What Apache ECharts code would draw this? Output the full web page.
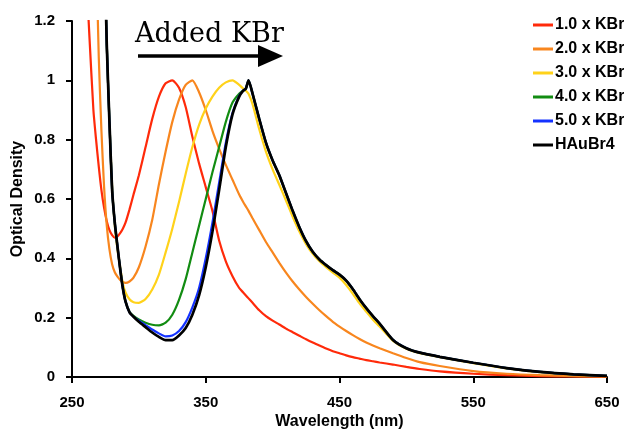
<!DOCTYPE html>
<html>
<head>
<meta charset="utf-8">
<script src="https://cdn.jsdelivr.net/npm/echarts@6/dist/echarts.min.js"></script>
<style>html,body{margin:0;padding:0;background:#fff}#c{width:624px;height:433px}</style>
</head>
<body>
<div id="c"></div>
<script>
// Wavelength grid (nm)
var wavelengths = [260,263,266,268,270,272,274,276,278,280,282,284,286,288,290,293,296,300,305,310,315,320,325,330,335,340,345,350,355,360,365,370,375,378,380,382,385,390,395,400,405,410,415,420,425,430,435,440,445,450,455,460,465,470,475,480,490,500,510,525,550,575,600,625,650];

var seriesNames = ['1.0 x KBr','2.0 x KBr','3.0 x KBr','4.0 x KBr','5.0 x KBr','HAuBr4'];

var kbr1 = [1.42,1.15,0.9,0.8,0.71,0.63,0.57,0.525,0.495,0.478,0.47,0.474,0.485,0.5,0.52,0.565,0.615,0.68,0.775,0.87,0.945,0.99,1.0,0.975,0.91,0.81,0.72,0.64,0.56,0.46,0.39,0.34,0.3,0.285,0.275,0.265,0.25,0.225,0.205,0.19,0.177,0.163,0.151,0.139,0.127,0.116,0.106,0.096,0.087,0.08,0.073,0.067,0.062,0.057,0.053,0.049,0.042,0.034,0.027,0.019,0.011,0.006,0.003,0.002,0.001];

var kbr2 = [null,null,null,1.45,1.08,0.83,0.64,0.51,0.43,0.38,0.353,0.338,0.327,0.32,0.317,0.322,0.335,0.37,0.44,0.53,0.65,0.76,0.86,0.935,0.985,1.0,0.96,0.9,0.83,0.77,0.715,0.665,0.615,0.59,0.575,0.56,0.535,0.495,0.455,0.42,0.385,0.352,0.322,0.295,0.27,0.247,0.225,0.205,0.186,0.17,0.155,0.141,0.128,0.116,0.106,0.097,0.08,0.064,0.05,0.037,0.02,0.011,0.006,0.003,0.001];

var kbr3 = [null,null,null,null,null,null,1.5,1.12,0.86,0.64,0.51,0.43,0.37,0.315,0.285,0.262,0.252,0.25,0.263,0.295,0.345,0.42,0.5,0.59,0.685,0.775,0.85,0.905,0.945,0.975,0.993,1.0,0.985,0.972,0.965,0.955,0.92,0.835,0.76,0.7,0.648,0.595,0.54,0.49,0.448,0.415,0.39,0.37,0.352,0.335,0.31,0.28,0.248,0.22,0.193,0.17,0.122,0.095,0.08,0.067,0.047,0.029,0.016,0.008,0.004];

var kbr4 = [null,null,null,null,null,null,1.5,1.12,0.86,0.63,0.52,0.44,0.365,0.3,0.255,0.22,0.206,0.194,0.183,0.176,0.174,0.183,0.21,0.26,0.33,0.42,0.51,0.6,0.69,0.775,0.86,0.925,0.955,0.965,0.972,1.0,0.955,0.87,0.79,0.73,0.68,0.62,0.56,0.505,0.458,0.422,0.396,0.377,0.36,0.345,0.325,0.296,0.262,0.232,0.205,0.18,0.125,0.097,0.082,0.068,0.048,0.03,0.017,0.009,0.004];

var kbr5 = [null,null,null,null,null,null,1.5,1.12,0.86,0.63,0.52,0.44,0.365,0.3,0.255,0.218,0.203,0.19,0.175,0.16,0.147,0.137,0.14,0.155,0.185,0.235,0.3,0.4,0.52,0.655,0.79,0.89,0.948,0.966,0.973,1.0,0.955,0.87,0.79,0.73,0.68,0.62,0.56,0.505,0.458,0.422,0.396,0.377,0.36,0.345,0.325,0.296,0.262,0.232,0.205,0.18,0.125,0.097,0.082,0.068,0.048,0.03,0.017,0.009,0.004];

var haubr4 = [null,null,null,null,null,null,1.5,1.12,0.86,0.63,0.52,0.44,0.365,0.3,0.255,0.218,0.203,0.186,0.168,0.15,0.135,0.124,0.124,0.14,0.165,0.21,0.275,0.37,0.49,0.63,0.775,0.885,0.945,0.965,0.972,1.0,0.955,0.87,0.79,0.73,0.68,0.62,0.56,0.505,0.458,0.422,0.396,0.377,0.36,0.345,0.325,0.296,0.262,0.232,0.205,0.18,0.125,0.097,0.082,0.068,0.048,0.03,0.017,0.009,0.004];

var xTickLabels = [250,350,450,550,650];
var colors = ['#ff2a0a','#f8861e','#ffd21a','#128c12','#1432ff','#000000'];
var widths = [2.2,2.2,2.2,2.2,2.2,2.7];

var allValues = [kbr1,kbr2,kbr3,kbr4,kbr5,haubr4];

function pairs(vals){
  var out = [];
  for (var i = 0; i < wavelengths.length; i++) out.push([wavelengths[i], vals[i]]);
  return out;
}

var series = allValues.map(function(vals, i){
  return {
    name: seriesNames[i],
    type: 'line',
    data: pairs(vals),
    symbol: 'none',
    showSymbol: false,
    smooth: 0.2,
    clip: true,
    lineStyle: { color: colors[i], width: widths[i] },
    itemStyle: { color: colors[i] },
    z: 2 + i
  };
});

var FONT = '"Liberation Sans", Arial, sans-serif';
var chart = echarts.init(document.getElementById('c'), null, { renderer: 'canvas' });
chart.setOption({
  animation: false,
  backgroundColor: '#ffffff',
  grid: { left: 72, right: 17, top: 21, bottom: 56, containLabel: false, outerBoundsMode: 'none' },
  legend: {
    orient: 'vertical',
    left: 528,
    top: 12,
    icon: 'rect',
    itemWidth: 20,
    itemHeight: 3,
    itemGap: 8,
    data: seriesNames,
    textStyle: { color: '#000', fontFamily: FONT, fontWeight: 'bold', fontSize: 16, lineHeight: 16, padding: [0,0,0,-3] }
  },
  xAxis: {
    type: 'value',
    min: 250,
    max: 650,
    name: 'Wavelength (nm)',
    nameLocation: 'middle',
    nameGap: 37,
    nameMoveOverlap: false,
    nameTextStyle: { color: '#000', fontFamily: FONT, fontWeight: 'bold', fontSize: 16 },
    axisLine: { show: true, onZero: false, lineStyle: { color: '#000', width: 2 } },
    axisTick: { show: true, length: 6, lineStyle: { color: '#000', width: 2 }, customValues: xTickLabels },
    axisLabel: { color: '#000', fontFamily: FONT, fontWeight: 'bold', fontSize: 15, margin: 18, customValues: xTickLabels },
    splitLine: { show: false }
  },
  yAxis: {
    type: 'value',
    min: 0,
    max: 1.2,
    interval: 0.2,
    name: 'Optical Density',
    nameLocation: 'middle',
    nameGap: 46,
    nameMoveOverlap: false,
    nameTextStyle: { color: '#000', fontFamily: FONT, fontWeight: 'bold', fontSize: 16 },
    axisLine: { show: true, lineStyle: { color: '#000', width: 2 } },
    axisTick: { show: true, length: 6, lineStyle: { color: '#000', width: 2 } },
    axisLabel: { color: '#000', fontFamily: FONT, fontWeight: 'bold', fontSize: 15, margin: 17 },
    splitLine: { show: false }
  },
  graphic: [
    { type: 'text', left: 135, top: 21, z: 100,
      style: { text: 'Added KBr', font: '27px "DejaVu Serif", serif', fill: '#000' } },
    { type: 'line', z: 100, shape: { x1: 138, y1: 56, x2: 262, y2: 56 },
      style: { stroke: '#000', lineWidth: 3.5 } },
    { type: 'polygon', z: 100, shape: { points: [[258,45],[283,56],[258,67]] },
      style: { fill: '#000' } }
  ],
  series: series
});
</script>
</body>
</html>
